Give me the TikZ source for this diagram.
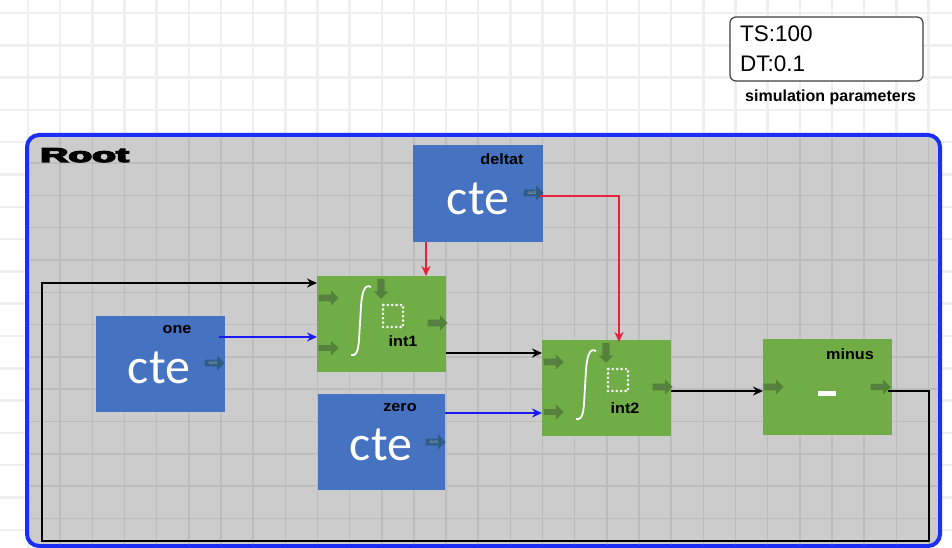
\documentclass[tikz,border=0pt]{standalone}
\usepackage{fontspec}
\setmainfont{Liberation Sans}
\newfontfamily\ctefont{Carlito}
\newfontfamily\heavyfont{Liberation Sans}[BoldFeatures={FakeBold=6}]
\usetikzlibrary{calc,arrows.meta,shapes.arrows}
\definecolor{rootblue}{HTML}{1A2EF5}
\definecolor{rootgray}{HTML}{CCCCCC}
\definecolor{gridin}{HTML}{BCBCBC}
\definecolor{gridout}{HTML}{EFEFEF}
\definecolor{cteblue}{HTML}{4672C2}
\definecolor{blkgreen}{HTML}{70AD47}
\definecolor{portgreen}{HTML}{54823A}
\definecolor{portblue}{HTML}{2F5D88}
\definecolor{linkred}{HTML}{E8223A}
\definecolor{linkblue}{HTML}{1A1AF5}
\tikzset{
  blk/.style={anchor=north west, inner sep=0pt, outer sep=0pt, draw=none},
  ctebox/.style={blk, fill=cteblue, minimum width=129pt, minimum height=96pt},
  intbox/.style={blk, fill=blkgreen, minimum width=129pt, minimum height=96pt},
  port/.style={single arrow, draw=none, fill=portgreen, minimum height=20pt, minimum width=15pt,
    single arrow head extend=3pt, inner sep=0.6pt, font=\fontsize{4.5}{5}\selectfont, text=black!55},
  bport/.style={port, fill=portblue, text=white!70!black},
  lbl/.style={font=\bfseries\fontsize{15}{15}\selectfont, text=black, inner sep=0pt},
  ctetxt/.style={font=\ctefont\fontsize{50}{50}\selectfont, text=white, inner sep=0pt, anchor=base},
  conn/.style={line width=1.6pt, -{Stealth[length=10pt,width=9pt]}},
  integ/.style={white, line width=1.8pt},
  dots/.style={white, line width=2.8pt, line cap=round, dash pattern=on 0pt off 4.4pt},
}
\begin{document}
\begin{tikzpicture}[x=1pt,y=-1pt]
\useasboundingbox (0,0) rectangle (952,548);
\fill[white] (0,0) rectangle (952,548);
% outside grid
\foreach \k in {0,...,16} \draw[gridout, line width=2.5pt] (0,13+32.3*\k) -- (952,13+32.3*\k);
\foreach \k in {-1,...,29} \draw[gridout, line width=2.5pt] (28+32.16*\k,0) -- (28+32.16*\k,548);
% simulation parameters
\node[blk, draw=black!75, line width=1.2pt, rounded corners=6pt, fill=white, minimum width=193pt, minimum height=64pt] (simbox) at (730,17) {};
\node[anchor=base west, inner sep=0pt, font=\fontsize{22.5}{22.5}\selectfont] (ts) at (740,42) {TS:100};
\node[anchor=base west, inner sep=0pt, font=\fontsize{22.5}{22.5}\selectfont] (dt) at (740,72) {DT:0.1};
\node[anchor=base west, inner sep=0pt, font=\bfseries\fontsize{16}{16}\selectfont] (simlbl) at (745,102) {simulation parameters};
% root
\node[blk, draw=rootblue, line width=4pt, rounded corners=12pt, fill=rootgray, minimum width=913pt, minimum height=411pt] (root) at (27,135) {};
\begin{scope}
\clip[rounded corners=10pt] (29,137) rectangle (938,544);
\foreach \k in {-4,...,8} \draw[gridin, line width=1.5pt] (0,260+32.3*\k) -- (952,260+32.3*\k);
\foreach \k in {0,...,29} \draw[gridin, line width=1.5pt] (28+32.16*\k,0) -- (28+32.16*\k,548);
\end{scope}
\node[anchor=base west, inner sep=0pt, font=\heavyfont\bfseries\fontsize{20}{20}\selectfont] (rootlbl) at (40,162) {\scalebox{1.95}[1]{Root}};
% blocks
\node[ctebox, minimum width=130pt, minimum height=97pt] (deltat) at (413,145) {};
\node[ctebox] (one) at (96,316) {};
\node[ctebox, minimum width=127pt] (zero) at (318,394) {};
\node[intbox] (int1) at (317,276) {};
\node[intbox] (int2) at (542,340) {};
\node[intbox] (minus) at (763,339) {};
% cte texts
\node[ctetxt] (deltatcte) at (478,214) {cte};
\node[ctetxt] (onecte) at (159,383) {cte};
\node[ctetxt] (zerocte) at (381,460) {cte};
% labels
\node[lbl] (deltatlbl) at (502,159) {\scalebox{1.08}[1]{deltat}};
\node[lbl] (onelbl) at (177,330) {\scalebox{1.08}[1]{one}};
\node[lbl] (zerolbl) at (400,408) {\scalebox{1.08}[1]{zero}};
\node[lbl] (minuslbl) at (850,354) {\scalebox{1.08}[1]{minus}};
\node[lbl] (int1lbl) at (403,341) {\scalebox{1.08}[1]{int1}};
\node[lbl] (int2lbl) at (625,408) {\scalebox{1.08}[1]{int2}};
% integrator symbols
\foreach \b in {int1,int2}{
  \begin{scope}[shift={(\b.north west)}]
    \draw[integ] (54,11) .. controls (47,7) and (45,18) .. (44,30) -- (42,64) .. controls (41,78) and (38,80) .. (34,79);
    \draw[dots] (66,29) rectangle (86,51);
  \end{scope}
}
% minus symbol
\fill[white] ($(minus.north west)+(55,52)$) rectangle ($(minus.north west)+(73,57)$);
% ports
\node[bport] (deltatout) at ($(deltat.north west)+(119,48)$) {out1};
\node[bport] (oneout) at ($(one.north west)+(117,47)$) {out1};
\node[bport] (zeroout) at ($(zero.north west)+(116,48)$) {out1};
\foreach \b in {int1,int2}{
  \node[port, shape border rotate=270] (\b dt) at ($(\b.north west)+(64,11)$) {dt};
  \node[port] (\b init) at ($(\b.north west)+(10,22)$) {init};
  \node[port] (\b x) at ($(\b.north west)+(10,72)$) {x};
  \node[port] (\b out) at ($(\b.north west)+(119,47)$) {out1};
}
\node[port] (minusin) at ($(minus.north west)+(9,48)$) {in1};
\node[port] (minusout) at ($(minus.north west)+(116,48)$) {out};
% connection points
\coordinate (oneo) at ($(one.north east)+(-6,21)$);
\coordinate (int1a) at ($(int1.north west)+(0,61)$);
\coordinate (int1b) at ($(int1.north west)+(0,7)$);
\coordinate (int1c) at ($(int1.north west)+(109,0)$);
\coordinate (int1o) at ($(int1.north east)+(0,77)$);
\coordinate (zeroo) at ($(zero.north east)+(0,19)$);
\coordinate (int2a) at ($(int2.north west)+(0,13)$);
\coordinate (int2b) at ($(int2.north west)+(0,73)$);
\coordinate (int2c) at ($(int2.north west)+(77,2)$);
\coordinate (int2o) at ($(int2.north east)+(0,51)$);
\coordinate (deltato) at ($(deltat.north east)+(-3,51)$);
\coordinate (deltatb) at ($(deltat.south west)+(13,0)$);
\coordinate (minusa) at ($(minus.north west)+(0,52)$);
\coordinate (minuso) at ($(minus.north east)+(-4,52)$);
\coordinate (fbr) at (929,541);
\coordinate (fbl) at (42,541);
% connectors
\draw[conn, linkblue] (oneo) -- (int1a);
\draw[conn, linkblue] (zeroo) -- (int2b);
\draw[conn, linkred] (deltato) -| (int2c);
\draw[conn, linkred] (deltatb) -- (int1c);
\draw[conn, black] (int1o) -- (int2a);
\draw[conn, black] (int2o) -- (minusa);
\draw[conn, black] (minuso) -| (fbr) -- (fbl) |- (int1b);
\end{tikzpicture}
\end{document}
